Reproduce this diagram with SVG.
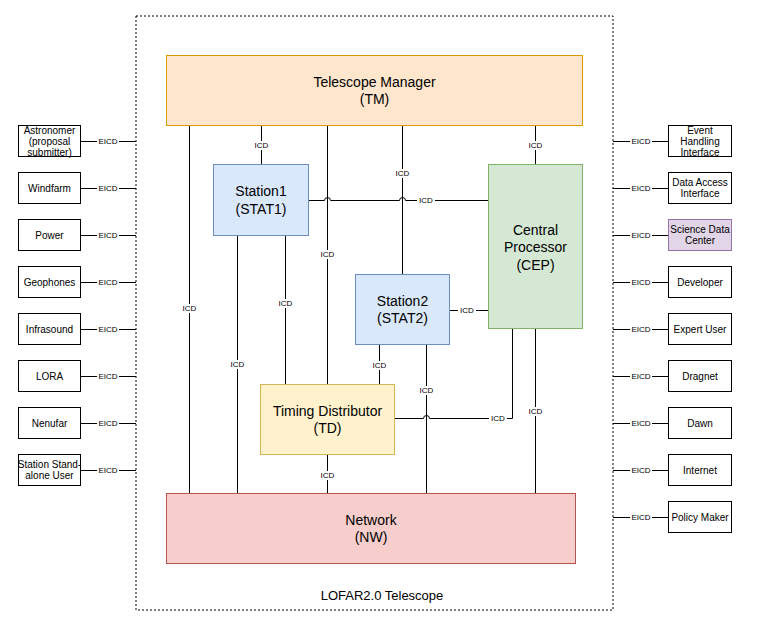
<svg xmlns="http://www.w3.org/2000/svg" width="780" height="634" viewBox="0 0 780 634">
<defs>
<style>
text{font-family:"Liberation Sans",Arial,Helvetica,sans-serif;fill:#000;text-anchor:middle}
.big{font-size:14px}
.sm{font-size:10px}
.lbl{font-size:8px}
.ttl{font-size:13px}
.ln{fill:none;stroke:#000;stroke-width:1}
.lb{fill:#fff}
.ext{fill:#fff;stroke:#000;stroke-width:1}
</style>
</defs>
<rect id="container" x="136" y="16" width="477" height="594" fill="none" stroke="#000" stroke-width="1" stroke-dasharray="2 2"/>
<text class="ttl" x="382" y="600">LOFAR2.0 Telescope</text>

<g id="connectors">
<path class="ln" d="M261.5,125 V164"/>
<path class="ln" d="M189.5,125 V493"/>
<path class="ln" d="M327.5,125 V384"/>
<path class="ln" d="M402.5,125 V274"/>
<path class="ln" d="M535.5,125 V164"/>
<path class="ln" d="M308,200.5 H324.5 A3,3 0 0 1 330.5,200.5 H399.5 A3,3 0 0 1 405.5,200.5 H488"/>
<path class="ln" d="M237.5,235 V493"/>
<path class="ln" d="M285.5,235 V384"/>
<path class="ln" d="M449,310.5 H488"/>
<path class="ln" d="M379.5,344 V384"/>
<path class="ln" d="M426.5,344 V493"/>
<path class="ln" d="M394,418.5 H423.5 A3,3 0 0 1 429.5,418.5 H512.5 V328"/>
<path class="ln" d="M327.5,454 V493"/>
<path class="ln" d="M535.5,328 V493"/>
<g id="icd-labels">
<rect class="lb" x="253" y="141" width="17" height="9"/><text class="lbl" x="261.5" y="148">ICD</text>
<rect class="lb" x="181" y="304" width="17" height="9"/><text class="lbl" x="189.5" y="311">ICD</text>
<rect class="lb" x="319" y="250" width="17" height="9"/><text class="lbl" x="327.5" y="257">ICD</text>
<rect class="lb" x="394" y="169" width="17" height="9"/><text class="lbl" x="402.5" y="176">ICD</text>
<rect class="lb" x="527" y="141" width="17" height="9"/><text class="lbl" x="535.5" y="148">ICD</text>
<rect class="lb" x="417" y="196" width="18" height="9"/><text class="lbl" x="426" y="203">ICD</text>
<rect class="lb" x="229" y="360" width="17" height="9"/><text class="lbl" x="237.5" y="367">ICD</text>
<rect class="lb" x="277" y="299" width="17" height="9"/><text class="lbl" x="285.5" y="306">ICD</text>
<rect class="lb" x="458" y="306" width="18" height="9"/><text class="lbl" x="467" y="313">ICD</text>
<rect class="lb" x="371" y="361" width="17" height="9"/><text class="lbl" x="379.5" y="368">ICD</text>
<rect class="lb" x="418" y="386" width="17" height="9"/><text class="lbl" x="426.5" y="393">ICD</text>
<rect class="lb" x="489" y="414" width="18" height="9"/><text class="lbl" x="498" y="421">ICD</text>
<rect class="lb" x="319" y="471" width="17" height="9"/><text class="lbl" x="327.5" y="478">ICD</text>
<rect class="lb" x="527" y="407" width="17" height="9"/><text class="lbl" x="535.5" y="414">ICD</text>
</g>
<g id="eicd-left">
<path class="ln" d="M80.5,141.5 H136 M80.5,188.5 H136 M80.5,235.5 H136 M80.5,282.5 H136 M80.5,329.5 H136 M80.5,376.5 H136 M80.5,423.5 H136 M80.5,470.5 H136"/>
<rect class="lb" x="97" y="137" width="22" height="9"/><text class="lbl" x="108" y="144">EICD</text>
<rect class="lb" x="97" y="184" width="22" height="9"/><text class="lbl" x="108" y="191">EICD</text>
<rect class="lb" x="97" y="231" width="22" height="9"/><text class="lbl" x="108" y="238">EICD</text>
<rect class="lb" x="97" y="278" width="22" height="9"/><text class="lbl" x="108" y="285">EICD</text>
<rect class="lb" x="97" y="325" width="22" height="9"/><text class="lbl" x="108" y="332">EICD</text>
<rect class="lb" x="97" y="372" width="22" height="9"/><text class="lbl" x="108" y="379">EICD</text>
<rect class="lb" x="97" y="419" width="22" height="9"/><text class="lbl" x="108" y="426">EICD</text>
<rect class="lb" x="97" y="466" width="22" height="9"/><text class="lbl" x="108" y="473">EICD</text>
</g>
<g id="eicd-right">
<path class="ln" d="M613,141.5 H668 M613,188.5 H668 M613,235.5 H668 M613,282.5 H668 M613,329.5 H668 M613,376.5 H668 M613,423.5 H668 M613,470.5 H668 M613,517.5 H668"/>
<rect class="lb" x="630" y="137" width="22" height="9"/><text class="lbl" x="641" y="144">EICD</text>
<rect class="lb" x="630" y="184" width="22" height="9"/><text class="lbl" x="641" y="191">EICD</text>
<rect class="lb" x="630" y="231" width="22" height="9"/><text class="lbl" x="641" y="238">EICD</text>
<rect class="lb" x="630" y="278" width="22" height="9"/><text class="lbl" x="641" y="285">EICD</text>
<rect class="lb" x="630" y="325" width="22" height="9"/><text class="lbl" x="641" y="332">EICD</text>
<rect class="lb" x="630" y="372" width="22" height="9"/><text class="lbl" x="641" y="379">EICD</text>
<rect class="lb" x="630" y="419" width="22" height="9"/><text class="lbl" x="641" y="426">EICD</text>
<rect class="lb" x="630" y="466" width="22" height="9"/><text class="lbl" x="641" y="473">EICD</text>
<rect class="lb" x="630" y="513" width="22" height="9"/><text class="lbl" x="641" y="520">EICD</text>
</g>
</g>

<g id="TM"><rect x="166.5" y="55.5" width="416" height="70" fill="#ffe6cc" stroke="#d79b00"/>
<text class="big" x="374.5" y="86.5">Telescope Manager</text><text class="big" x="374.5" y="103.5">(TM)</text></g>
<g id="STAT1"><rect x="213.5" y="164.5" width="95" height="71" fill="#dae8fc" stroke="#6c8ebf"/>
<text class="big" x="261" y="196">Station1</text><text class="big" x="261" y="213.5">(STAT1)</text></g>
<g id="CEP"><rect x="488.5" y="164.5" width="94" height="164" fill="#d5e8d4" stroke="#82b366"/>
<text class="big" x="535.5" y="234.5">Central</text><text class="big" x="535.5" y="252">Processor</text><text class="big" x="535.5" y="269.5">(CEP)</text></g>
<g id="STAT2"><rect x="355.5" y="274.5" width="94" height="70" fill="#dae8fc" stroke="#6c8ebf"/>
<text class="big" x="402.5" y="306">Station2</text><text class="big" x="402.5" y="323">(STAT2)</text></g>
<g id="TD"><rect x="260.5" y="384.5" width="134" height="70" fill="#fff2cc" stroke="#d6b656"/>
<text class="big" x="327.5" y="415.5">Timing Distributor</text><text class="big" x="327.5" y="432.5">(TD)</text></g>
<g id="NW"><rect x="166.5" y="493.5" width="409" height="70" fill="#f8cecc" stroke="#b85450"/>
<text class="big" x="371" y="524.5">Network</text><text class="big" x="371" y="541.5">(NW)</text></g>

<g id="astronomer"><rect class="ext" x="18.5" y="125.5" width="62" height="31"/><text class="sm" x="49.5" y="133.5">Astronomer</text><text class="sm" x="49.5" y="144.5">(proposal</text><text class="sm" x="49.5" y="155.5">submitter)</text></g>
<g id="windfarm"><rect class="ext" x="18.5" y="172.5" width="62" height="31"/><text class="sm" x="49.5" y="191.5">Windfarm</text></g>
<g id="power"><rect class="ext" x="18.5" y="219.5" width="62" height="31"/><text class="sm" x="49.5" y="238.5">Power</text></g>
<g id="geophones"><rect class="ext" x="18.5" y="266.5" width="62" height="31"/><text class="sm" x="49.5" y="285.5">Geophones</text></g>
<g id="infrasound"><rect class="ext" x="18.5" y="313.5" width="62" height="31"/><text class="sm" x="49.5" y="332.5">Infrasound</text></g>
<g id="lora"><rect class="ext" x="18.5" y="360.5" width="62" height="31"/><text class="sm" x="49.5" y="379.5">LORA</text></g>
<g id="nenufar"><rect class="ext" x="18.5" y="407.5" width="62" height="31"/><text class="sm" x="49.5" y="426.5">Nenufar</text></g>
<g id="standalone"><rect class="ext" x="18.5" y="454.5" width="62" height="31"/><text class="sm" x="49.5" y="468">Station Stand-</text><text class="sm" x="49.5" y="479">alone User</text></g>

<g id="event"><rect class="ext" x="668.5" y="125.5" width="63" height="31"/><text class="sm" x="700" y="133.5">Event</text><text class="sm" x="700" y="144.5">Handling</text><text class="sm" x="700" y="155.5">Interface</text></g>
<g id="dataaccess"><rect class="ext" x="668.5" y="172.5" width="63" height="31"/><text class="sm" x="700" y="186">Data Access</text><text class="sm" x="700" y="197">Interface</text></g>
<g id="sdc"><rect x="668.5" y="219.5" width="63" height="31" fill="#e1d5e7" stroke="#9673a6"/><text class="sm" x="700" y="233">Science Data</text><text class="sm" x="700" y="244">Center</text></g>
<g id="developer"><rect class="ext" x="668.5" y="266.5" width="63" height="31"/><text class="sm" x="700" y="285.5">Developer</text></g>
<g id="expert"><rect class="ext" x="668.5" y="313.5" width="63" height="31"/><text class="sm" x="700" y="332.5">Expert User</text></g>
<g id="dragnet"><rect class="ext" x="668.5" y="360.5" width="63" height="31"/><text class="sm" x="700" y="379.5">Dragnet</text></g>
<g id="dawn"><rect class="ext" x="668.5" y="407.5" width="63" height="31"/><text class="sm" x="700" y="426.5">Dawn</text></g>
<g id="internet"><rect class="ext" x="668.5" y="454.5" width="63" height="31"/><text class="sm" x="700" y="473.5">Internet</text></g>
<g id="policy"><rect class="ext" x="668.5" y="501.5" width="63" height="31"/><text class="sm" x="700" y="520.5">Policy Maker</text></g>
</svg>
